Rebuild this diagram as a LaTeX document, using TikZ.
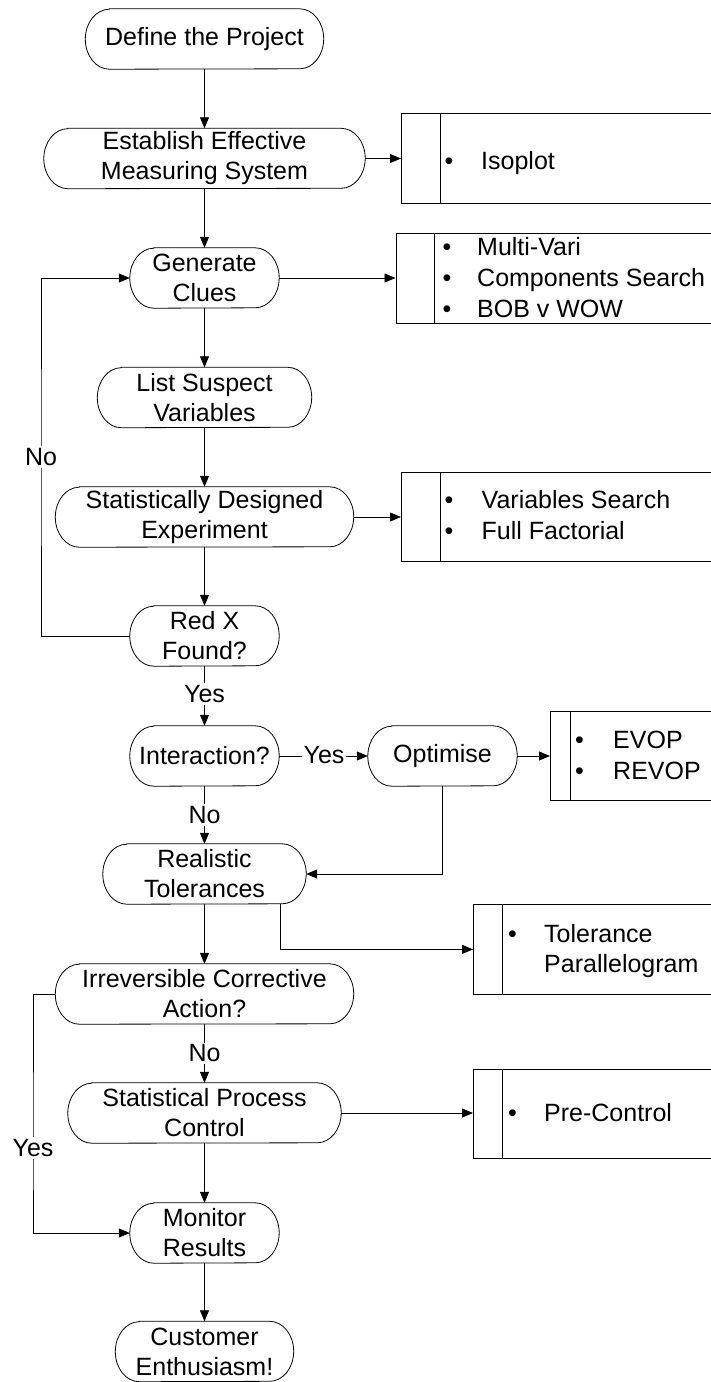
\documentclass[tikz,border=0pt]{standalone}
\usepackage{fontspec}
\setmainfont{Liberation Sans}
\usetikzlibrary{arrows.meta}
\begin{document}
\begin{tikzpicture}[x=1pt,y=-1pt,
  every node/.style={font=\fontsize{25}{30}\selectfont},
  term/.style={minimum height=60pt, inner sep=0pt, align=center},
  outline/.style={line width=0.8pt},
  tool/.style={draw, rectangle, line width=0.8pt, inner sep=0pt, anchor=north west},
  conn/.style={line width=0.8pt, -{Triangle[length=11pt,width=9pt]}},
  plain/.style={line width=0.8pt},
  lbl/.style={fill=white, inner sep=2pt},
  bul/.style={inner sep=0pt, anchor=base},
  itm/.style={inner sep=0pt, anchor=base west}
]
\useasboundingbox (0,0) rectangle (711,1382);

% process nodes
\node[term, minimum width=238pt] (define) at (204.5,39) {Define the Project};
\node[term, minimum width=321pt] (establish) at (204.5,158.5) {Establish Effective\\Measuring System};
\node[term, minimum width=149pt] (generate) at (204.5,278) {Generate\\Clues};
\node[term, minimum width=214pt] (list) at (204.5,397.5) {List Suspect\\Variables};
\node[term, minimum width=298pt] (sde) at (204.5,517) {Statistically Designed\\Experiment};
\node[term, minimum width=149pt] (redx) at (204.5,636) {Red X\\Found?};
\node[term, minimum width=149pt] (inter) at (204.5,756) {Interaction?};
\node[term, minimum width=149pt] (optim) at (442.5,756) {Optimise};
\node[term, minimum width=203pt] (real) at (204.5,874) {Realistic\\Tolerances};
\node[term, minimum width=298pt] (irrev) at (204.5,994) {Irreversible Corrective\\Action?};
\node[term, minimum width=273pt] (spc) at (204.5,1113) {Statistical Process\\Control};
\node[term, minimum width=149pt] (monitor) at (204.5,1233) {Monitor\\Results};
\node[term, minimum width=178pt] (cust) at (204.5,1351.5) {Customer\\Enthusiasm!};

\foreach \n in {define,establish,generate,list,sde,redx,inter,optim,real,irrev,spc,monitor,cust}{
  \draw[outline] ([xshift=24pt]\n.north west) -- ([xshift=-24pt]\n.north east)
    arc[start angle=90,end angle=-90,x radius=24pt,y radius=30pt]
    -- ([xshift=24pt]\n.south west)
    arc[start angle=270,end angle=90,x radius=24pt,y radius=30pt] -- cycle;
}

% tool boxes
\node[tool, minimum width=309.5pt, minimum height=90pt] (isobox) at (401,113) {};
\node[tool, minimum width=315pt, minimum height=90pt] (mvbox) at (395.5,233) {};
\node[tool, minimum width=309.5pt, minimum height=89pt] (varbox) at (401,472) {};
\node[tool, minimum width=160.5pt, minimum height=89pt] (evopbox) at (550,711) {};
\node[tool, minimum width=237.5pt, minimum height=90pt] (tolbox) at (473,904) {};
\node[tool, minimum width=237.5pt, minimum height=89pt] (pcbox) at (473,1069) {};

\draw[plain] ([xshift=39pt]isobox.north west) -- ([xshift=39pt]isobox.south west);
\draw[plain] ([xshift=39pt]mvbox.north west) -- ([xshift=39pt]mvbox.south west);
\draw[plain] ([xshift=39pt]varbox.north west) -- ([xshift=39pt]varbox.south west);
\draw[plain] ([xshift=20pt]evopbox.north west) -- ([xshift=20pt]evopbox.south west);
\draw[plain] ([xshift=29.5pt]tolbox.north west) -- ([xshift=29.5pt]tolbox.south west);
\draw[plain] ([xshift=29.5pt]pcbox.north west) -- ([xshift=29.5pt]pcbox.south west);

% box contents
\node[bul] (b1) at (449,169) {•};
\node[itm] (t1) at (481,169) {Isoplot};
\node[bul] (b2) at (447,255) {•};
\node[itm] (t2) at (477,255) {Multi-Vari};
\node[bul] (b3) at (447,286) {•};
\node[itm] (t3) at (477,286) {Components Search};
\node[bul] (b4) at (447,317) {•};
\node[itm] (t4) at (477,317) {BOB v WOW};
\node[bul] (b5) at (449,508) {•};
\node[itm] (t5) at (481.5,508) {Variables Search};
\node[bul] (b6) at (449,539.5) {•};
\node[itm] (t6) at (481.5,539.5) {Full Factorial};
\node[bul] (b7) at (579.5,748) {•};
\node[itm] (t7) at (613,748) {EVOP};
\node[bul] (b8) at (579.5,779) {•};
\node[itm] (t8) at (613,779) {REVOP};
\node[bul] (b9) at (512.5,942.5) {•};
\node[itm] (t9) at (544,942.5) {Tolerance};
\node[itm] (t10) at (544,972.5) {Parallelogram};
\node[bul] (b11) at (512.5,1121.5) {•};
\node[itm] (t11) at (544,1121.5) {Pre-Control};

% connectors
\coordinate (noX) at (41,457);
\coordinate (yesX) at (33,1148);
\draw[conn] (define.south) -- (establish.north);
\draw[conn] (establish.east) -- (establish.east -| isobox.west);
\draw[conn] (establish.south) -- (generate.north);
\draw[conn] (generate.east) -- (generate.east -| mvbox.west);
\draw[conn] (generate.south) -- (list.north);
\draw[conn] (list.south) -- (sde.north);
\draw[conn] (sde.east) -- (sde.east -| varbox.west);
\draw[conn] (sde.south) -- (redx.north);
\draw[conn] (redx.west) -| (noX) |- (generate.west);
\draw[conn] (redx.south) -- (inter.north);
\draw[conn] (inter.east) -- (optim.west);
\draw[conn] (optim.east) -- (optim.east -| evopbox.west);
\draw[conn] (inter.south) -- (real.north);
\draw[conn] (optim.south) |- (real.east);
\draw[conn] ([xshift=75.5pt]real.south) |- (tolbox.west);
\draw[conn] (real.south) -- (irrev.north);
\draw[conn] (irrev.west) -| (yesX) |- (monitor.west);
\draw[conn] (irrev.south) -- (spc.north);
\draw[conn] (spc.east) -- (spc.east -| pcbox.west);
\draw[conn] (spc.south) -- (monitor.north);
\draw[conn] (monitor.south) -- (cust.north);

% labels
\node[lbl] (lno1) at (noX) {No};
\node[lbl] (lyes1) at (204.5,694) {Yes};
\node[lbl] (lyes2) at (324,755) {Yes};
\node[lbl] (lno2) at (204.5,815) {No};
\node[lbl] (lno3) at (204.5,1053.5) {No};
\node[lbl] (lyes3) at (yesX) {Yes};
\end{tikzpicture}
\end{document}
